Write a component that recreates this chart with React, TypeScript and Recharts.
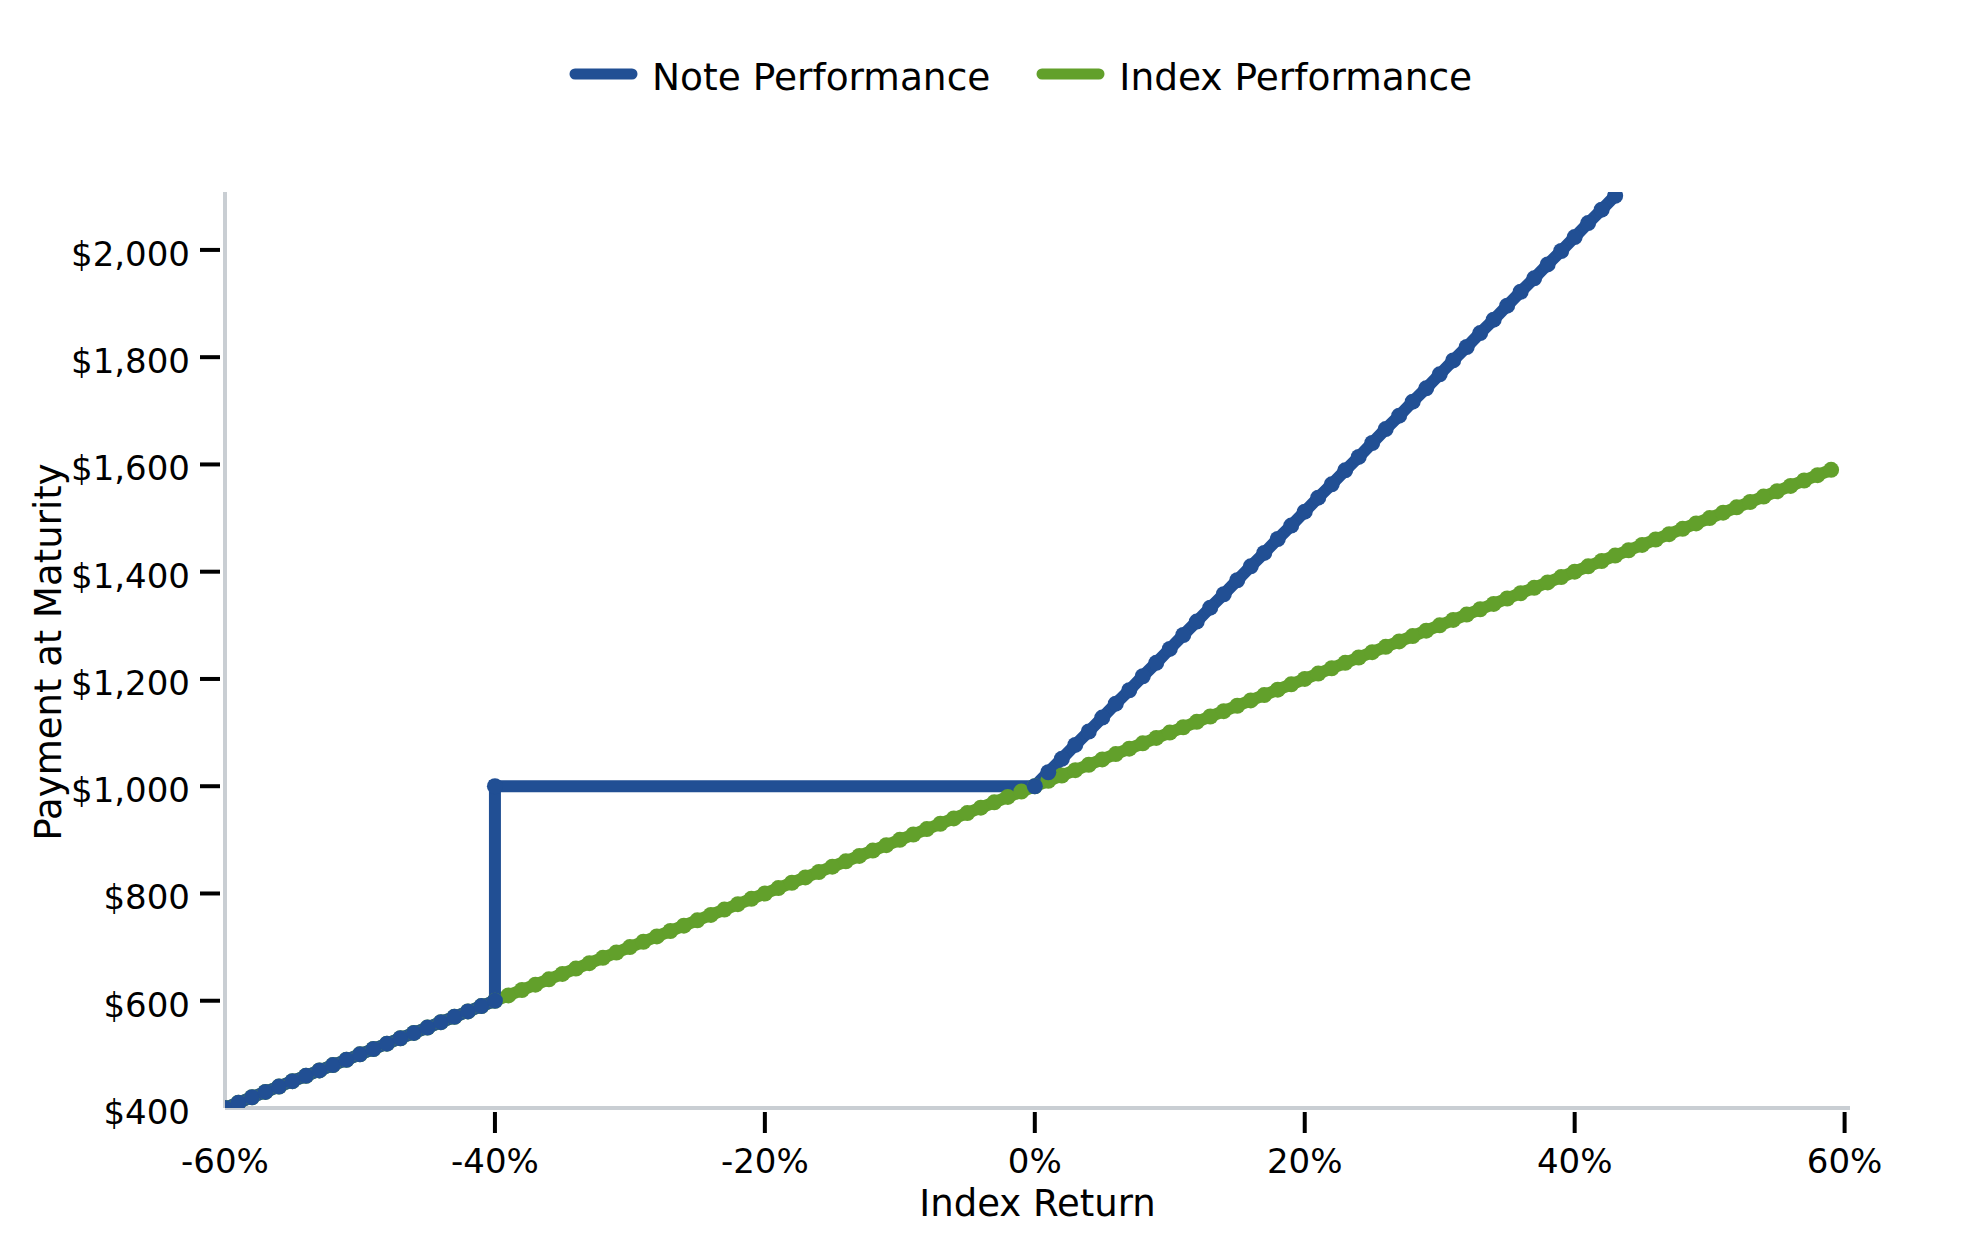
import React from "react"
import { LineChart, Line, XAxis, YAxis, Label } from "recharts"

// index return (%) and payment at maturity ($)
const indexReturn = [
  -60, -59, -58, -57, -56, -55, -54, -53, -52, -51,
  -50, -49, -48, -47, -46, -45, -44, -43, -42, -41,
  -40, -39, -38, -37, -36, -35, -34, -33, -32, -31,
  -30, -29, -28, -27, -26, -25, -24, -23, -22, -21,
  -20, -19, -18, -17, -16, -15, -14, -13, -12, -11,
  -10, -9, -8, -7, -6, -5, -4, -3, -2, -1,
  0, 1, 2, 3, 4, 5, 6, 7, 8, 9,
  10, 11, 12, 13, 14, 15, 16, 17, 18, 19,
  20, 21, 22, 23, 24, 25, 26, 27, 28, 29,
  30, 31, 32, 33, 34, 35, 36, 37, 38, 39,
  40, 41, 42, 43, 44, 45, 46, 47, 48, 49,
  50, 51, 52, 53, 54, 55, 56, 57, 58, 59,
]
const indexPayment = [
  400, 410, 420, 430, 440, 450, 460, 470, 480, 490,
  500, 510, 520, 530, 540, 550, 560, 570, 580, 590,
  600, 610, 620, 630, 640, 650, 660, 670, 680, 690,
  700, 710, 720, 730, 740, 750, 760, 770, 780, 790,
  800, 810, 820, 830, 840, 850, 860, 870, 880, 890,
  900, 910, 920, 930, 940, 950, 960, 970, 980, 990,
  1000, 1010, 1020, 1030, 1040, 1050, 1060, 1070, 1080, 1090,
  1100, 1110, 1120, 1130, 1140, 1150, 1160, 1170, 1180, 1190,
  1200, 1210, 1220, 1230, 1240, 1250, 1260, 1270, 1280, 1290,
  1300, 1310, 1320, 1330, 1340, 1350, 1360, 1370, 1380, 1390,
  1400, 1410, 1420, 1430, 1440, 1450, 1460, 1470, 1480, 1490,
  1500, 1510, 1520, 1530, 1540, 1550, 1560, 1570, 1580, 1590,
]

const noteReturn = [
  -60, -59, -58, -57, -56, -55, -54, -53, -52, -51,
  -50, -49, -48, -47, -46, -45, -44, -43, -42, -41,
  -40, -40,
  0, 1, 2, 3, 4, 5, 6, 7, 8, 9,
  10, 11, 12, 13, 14, 15, 16, 17, 18, 19,
  20, 21, 22, 23, 24, 25, 26, 27, 28, 29,
  30, 31, 32, 33, 34, 35, 36, 37, 38, 39,
  40, 41, 42, 43,
]
const notePayment = [
  400, 410, 420, 430, 440, 450, 460, 470, 480, 490,
  500, 510, 520, 530, 540, 550, 560, 570, 580, 590,
  600, 1000,
  1000, 1026, 1051, 1077, 1102, 1128, 1154, 1179, 1205, 1230,
  1256, 1282, 1307, 1333, 1358, 1384, 1410, 1435, 1461, 1486,
  1512, 1538, 1563, 1589, 1614, 1640, 1666, 1691, 1717, 1742,
  1768, 1794, 1819, 1845, 1870, 1896, 1922, 1947, 1973, 1998,
  2024, 2050, 2075, 2101,
]

const xTicks = [-60, -40, -20, 0, 20, 40, 60]
const yTicks = [400, 600, 800, 1000, 1200, 1400, 1600, 1800, 2000]

const series = [
  { name: "Note Performance", color: "#214f94", x: noteReturn, y: notePayment },
  { name: "Index Performance", color: "#62a02b", x: indexReturn, y: indexPayment },
]

const FONT = "DejaVu Sans"
const AXIS_COLOR = "#c9ced3"

const XTick = (props: any) => {
  const { x, y, payload } = props
  const v = payload.value
  return (
    <g>
      {v !== xTicks[0] && <line x1={x} x2={x} y1={y + 4} y2={y + 25} stroke="#000" strokeWidth={4} />}
      <text x={x} y={y + 65} textAnchor="middle" fontSize={34} fontFamily={FONT} fill="#000">
        {`${v}%`}
      </text>
    </g>
  )
}

const YTick = (props: any) => {
  const { x, y, payload } = props
  const v = payload.value
  return (
    <g>
      {v !== yTicks[0] && <line x1={x - 25} x2={x - 5} y1={y} y2={y} stroke="#000" strokeWidth={4} />}
      <text x={x - 35} y={y + 16} textAnchor="end" fontSize={34} fontFamily={FONT} fill="#000">
        {`$${v.toLocaleString("en-US")}`}
      </text>
    </g>
  )
}

export default function App() {
  const lines = series.map((s) => ({ ...s, data: s.x.map((x, i) => ({ x, y: s.y[i] })) }))
  // draw index first so the note line sits on top
  const drawOrder = [lines[1], lines[0]]

  return (
    <div style={{ position: "relative", width: 1963, height: 1234, fontFamily: FONT }}>
      <div
        style={{
          position: "absolute",
          left: 561,
          top: 44,
          display: "flex",
          alignItems: "center",
          fontSize: 37.5,
          lineHeight: "43px",
          color: "#000",
        }}
      >
        {series.map((s, i) => (
          <div key={s.name} style={{ display: "flex", alignItems: "center", marginRight: i === 0 ? 46 : 0 }}>
            <svg width={69} height={12} style={{ display: "block" }}>
              <line x1={6} y1={6} x2={63} y2={6} stroke={s.color} strokeWidth={11} strokeLinecap="round" />
            </svg>
            <span style={{ marginLeft: 14, position: "relative", top: 4 }}>{s.name}</span>
          </div>
        ))}
      </div>
      <LineChart width={1963} height={1234} margin={{ top: 184, right: 121, bottom: 14, left: 17 }}>
        <XAxis
          type="number"
          dataKey="x"
          domain={[-60, 60.4]}
          ticks={xTicks}
          interval={0}
          height={120}
          tickSize={0}
          tickMargin={0}
          tickLine={false}
          axisLine={{ stroke: AXIS_COLOR, strokeWidth: 4 }}
          tick={<XTick />}
          allowDataOverflow
        >
          <Label
            content={(p: any) => {
              const vb = p.viewBox || {}
              return (
                <text x={vb.x + vb.width / 2} y={vb.y + 108} textAnchor="middle" fontSize={37} fontFamily={FONT} fill="#000">
                  Index Return
                </text>
              )
            }}
          />
        </XAxis>
        <YAxis
          type="number"
          dataKey="y"
          domain={[400, 2108]}
          ticks={yTicks}
          interval={0}
          width={200}
          tickSize={0}
          tickMargin={0}
          tickLine={false}
          axisLine={{ stroke: AXIS_COLOR, strokeWidth: 4 }}
          tick={<YTick />}
          allowDataOverflow
        >
          <Label
            content={(p: any) => {
              const vb = p.viewBox || {}
              const cx = 53
              const cy = vb.y + vb.height / 2 + 2
              return (
                <text x={cx} y={cy} transform={`rotate(-90, ${cx}, ${cy})`} textAnchor="middle" fontSize={37} fontFamily={FONT} fill="#000">
                  Payment at Maturity
                </text>
              )
            }}
          />
        </YAxis>
        {drawOrder.map((s) => (
          <Line
            key={s.name}
            name={s.name}
            data={s.data}
            dataKey="y"
            type="linear"
            stroke={s.color}
            strokeWidth={12}
            dot={{ r: 8, fill: s.color, stroke: "none", strokeWidth: 0 }}
            activeDot={false}
            isAnimationActive={false}
          />
        ))}
      </LineChart>
    </div>
  )
}
